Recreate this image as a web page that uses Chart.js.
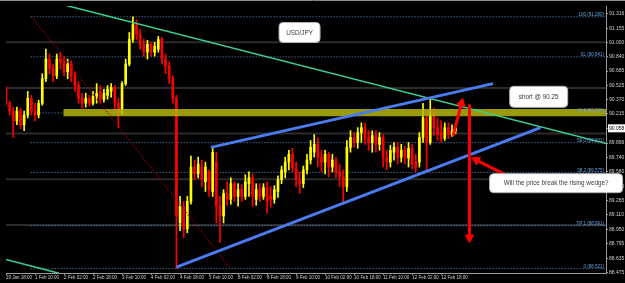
<!DOCTYPE html>
<html><head><meta charset="utf-8">
<script src="https://cdn.jsdelivr.net/npm/chart.js@4.4.0/dist/chart.umd.min.js"></script>
<style>html,body{margin:0;padding:0;background:#000;overflow:hidden}canvas{display:block}</style>
</head><body>
<canvas id="c" width="625" height="283"></canvas>
<script>
// ---- time axis (one bar = 2 hours, tick every 8 bars) ----
const xTickLabels = ['29 Jan 18:00','1 Feb 10:00','2 Feb 02:00','2 Feb 18:00','3 Feb 10:00','4 Feb 02:00','4 Feb 18:00','5 Feb 10:00','8 Feb 02:00','8 Feb 18:00','9 Feb 10:00','10 Feb 02:00','10 Feb 18:00','11 Feb 10:00','12 Feb 02:00','12 Feb 18:00'];
const xTickIndex = [0,8,16,24,32,40,48,56,64,72,80,88,96,104,112,120];

// ---- price axis ----
const yTickValues = [91.316,91.155,91.000,90.840,90.685,90.525,90.370,90.215,90.058,89.896,89.740,89.580,89.420,89.265,89.110,88.950,88.795,88.635,88.475];
const currentPrice = 90.058;

// ---- USD/JPY candles ----
const open = [90.495,90.333,90.247,90.140,90.247,90.097,90.204,90.387,90.247,90.204,
90.333,90.602,90.817,90.710,90.634,90.817,90.785,90.677,90.763,90.634,
90.527,90.387,90.333,90.387,90.333,90.409,90.462,90.376,90.419,90.462,
90.505,90.333,90.226,90.548,90.763,91.032,91.194,91.086,90.978,90.892,
90.978,90.892,90.925,91.032,90.817,90.742,90.602,90.387,89.022,89.204,
88.957,89.258,89.634,89.559,89.634,89.473,89.581,89.366,89.688,89.204,
89.097,89.344,89.280,89.452,89.312,89.387,89.312,89.452,89.516,89.280,
89.387,89.312,89.409,89.312,89.280,89.366,89.495,89.581,89.688,89.774,
89.624,89.495,89.452,89.602,89.710,89.796,89.882,89.742,89.688,89.774,
89.634,89.710,89.581,89.527,89.419,89.850,89.957,89.903,90.011,90.065,
89.957,89.903,89.979,89.882,89.957,89.742,89.688,89.796,89.850,89.742,
89.817,89.731,89.839,89.688,89.688,89.957,90.172,89.903,90.226,90.065,
90.011,89.946,90.065,89.989,90.032];
const high = [90.516,90.355,90.290,90.290,90.280,90.247,90.462,90.419,90.333,90.366,
90.656,90.925,90.871,90.763,90.871,90.892,90.849,90.817,90.796,90.677,
90.570,90.441,90.441,90.419,90.462,90.548,90.527,90.484,90.527,90.548,
90.527,90.387,90.570,90.817,91.108,91.280,91.247,91.140,91.032,91.022,
91.000,91.000,91.065,91.054,90.871,90.785,90.634,90.419,89.312,89.258,
89.312,89.753,89.710,89.742,89.710,89.688,89.602,89.850,89.796,89.312,
89.387,89.473,89.516,89.473,89.452,89.441,89.549,89.581,89.559,89.452,
89.452,89.452,89.473,89.419,89.430,89.538,89.645,89.742,89.817,89.839,
89.688,89.581,89.645,89.774,89.925,89.989,89.957,89.817,89.817,89.796,
89.774,89.742,89.667,89.602,89.925,90.032,90.011,90.065,90.118,90.118,
90.032,90.032,90.032,90.011,89.989,89.817,89.871,89.903,89.903,89.882,
89.860,89.903,89.882,89.774,90.011,90.333,90.247,90.387,90.280,90.172,
90.140,90.118,90.118,90.097,90.118];
const low = [90.312,90.204,89.957,90.097,90.054,90.032,90.172,90.204,90.140,90.172,
90.312,90.570,90.656,90.570,90.602,90.710,90.634,90.602,90.570,90.462,
90.333,90.280,90.290,90.301,90.312,90.333,90.333,90.344,90.376,90.398,
90.247,90.065,90.204,90.527,90.742,91.000,91.032,90.925,90.849,90.817,
90.849,90.849,90.892,90.763,90.656,90.548,90.333,88.521,88.936,88.861,
88.914,89.226,89.495,89.516,89.419,89.366,89.312,89.312,89.022,88.807,
89.022,89.215,89.226,89.258,89.204,89.258,89.280,89.312,89.204,89.215,
89.258,89.280,89.129,89.194,89.237,89.301,89.452,89.516,89.602,89.581,
89.419,89.344,89.409,89.559,89.667,89.742,89.634,89.581,89.559,89.527,
89.581,89.516,89.419,89.237,89.366,89.796,89.850,89.839,89.903,89.882,
89.817,89.796,89.796,89.817,89.634,89.602,89.634,89.710,89.667,89.688,
89.667,89.634,89.613,89.581,89.634,89.903,89.581,89.882,89.979,89.925,
89.903,89.925,89.946,89.968,90.000];
const close = [90.333,90.247,90.140,90.247,90.097,90.204,90.387,90.247,90.204,90.333,
90.602,90.817,90.710,90.634,90.817,90.785,90.677,90.763,90.634,90.527,
90.387,90.333,90.387,90.333,90.409,90.441,90.376,90.441,90.484,90.505,
90.333,90.226,90.548,90.763,91.032,91.194,91.086,90.978,90.892,90.978,
90.892,90.957,91.032,90.817,90.742,90.602,90.387,89.097,89.204,88.957,
89.258,89.634,89.559,89.667,89.495,89.634,89.387,89.796,89.204,89.097,
89.344,89.280,89.452,89.312,89.387,89.312,89.473,89.516,89.312,89.387,
89.312,89.409,89.258,89.280,89.387,89.495,89.602,89.688,89.774,89.624,
89.495,89.452,89.602,89.710,89.850,89.882,89.742,89.688,89.774,89.634,
89.710,89.581,89.527,89.419,89.850,89.957,89.903,90.011,90.065,89.957,
89.903,89.979,89.882,89.957,89.742,89.688,89.817,89.850,89.742,89.817,
89.731,89.839,89.667,89.624,89.957,90.172,89.903,90.226,90.065,89.989,
89.946,90.065,89.989,90.032,90.058];

// ---- horizontal levels ----
const roundLevels = [91.0, 90.5, 90.0, 89.5, 89.0];
const fibNames = ['100','SL','61.8','50.0','38.2','TP 1','0'];
const fibLevels = [91.280, 90.841, 90.226, 89.901, 89.575, 88.991, 88.521];
const fibStartBar = 6.8;
const zoneTop = 90.269, zoneBottom = 90.190, zoneStartBar = 15.8;

// ---- drawn lines (bar index, price) ----
const greenUpperX = [16.1, 165.5],  greenUpperY = [91.409, 89.891];
const greenLowerX = [0, 14.6],      greenLowerY = [88.620, 88.470];
const fibDiagX = [7.1, 62.0],       fibDiagY = [91.280, 88.521];
const wedgeTopX = [56.5, 134.3],    wedgeTopY = [89.849, 90.548];
const wedgeBotX = [47.0, 147.4],    wedgeBotY = [88.538, 90.065];
const arrowUpX = [123.3, 125.6],    arrowUpY = [89.979, 90.333];
const arrowDownX = [127.8, 127.8],  arrowDownY = [90.323, 88.861];
const arrowNoteX = [137.3, 129.7],  arrowNoteY = [89.559, 89.710];

// ---- notes ----
const noteTexts = ['USD/JPY', 'short @ 90.25', 'Will the price break the rising wedge?'];
const noteBar = [80.95, 146.9, 151.7];
const notePrice = [91.108, 90.403, 89.457];
const noteW = [41, 58, 133], noteH = [20, 21, 19];

const xMin = 0, xMax = 165.46, yMin = 88.473, yMax = 91.398;
const bars = open.map((_, i) => i);
const candleColors = bars.map(i => close[i] >= open[i] ? '#ffff00' : '#ff0000');

function seg(xs, ys, color, width, order, extra) {
  return Object.assign({
    type: 'line', data: xs.map((v, i) => ({x: v, y: ys[i]})),
    borderColor: color, borderWidth: width, pointRadius: 0, order: order, tension: 0
  }, extra || {});
}

const datasets = [];
roundLevels.forEach(v => datasets.push(seg([xMin, xMax], [v, v], '#2c2c2c', 2, 20)));
fibLevels.forEach(v => datasets.push(seg([fibStartBar, xMax], [v, v], '#5f95cc', 1, 19, {borderDash: [1, 2]})));
datasets.push({type: 'bar', data: bars.map(i => ({x: i, y: [low[i], high[i]]})), backgroundColor: candleColors, barThickness: 1, grouped: false, order: 12});
datasets.push({type: 'bar', data: bars.map(i => ({x: i, y: [open[i], close[i]]})), backgroundColor: candleColors, barThickness: 2, grouped: false, minBarLength: 1, order: 11});
datasets.push(seg([zoneStartBar, xMax], [zoneTop, zoneTop], 'rgba(0,0,0,0)', 0, 8, {fill: '+1', backgroundColor: 'rgba(180,180,10,0.85)'}));
datasets.push(seg([zoneStartBar, xMax], [zoneBottom, zoneBottom], 'rgba(0,0,0,0)', 0, 8));
datasets.push(seg(greenUpperX, greenUpperY, '#3ccf8e', 1.5, 5));
datasets.push(seg(greenLowerX, greenLowerY, '#3ccf8e', 1.5, 5));
datasets.push(seg(fibDiagX, fibDiagY, '#a00000', 1.5, 5, {borderDash: [1, 2]}));
datasets.push(seg(wedgeTopX, wedgeTopY, '#4a7bf0', 3, 4));
datasets.push(seg(wedgeBotX, wedgeBotY, '#4a7bf0', 3, 4));
const arrowOpts = rot => ({pointRadius: [0, 5], pointStyle: 'triangle', pointRotation: [0, rot], pointBackgroundColor: '#ff0000', pointBorderColor: '#ff0000', pointBorderWidth: 1});
datasets.push(seg(arrowUpX, arrowUpY, '#ff0000', 3, 1, arrowOpts(14)));
datasets.push(seg(arrowDownX, arrowDownY, '#ff0000', 3, 1, arrowOpts(180)));
datasets.push(seg(arrowNoteX, arrowNoteY, '#ff0000', 3, 1, arrowOpts(296.6)));

function roundRectPath(ctx, x, y, w, h, r) {
  ctx.beginPath();
  ctx.moveTo(x + r, y);
  ctx.arcTo(x + w, y, x + w, y + h, r);
  ctx.arcTo(x + w, y + h, x, y + h, r);
  ctx.arcTo(x, y + h, x, y, r);
  ctx.arcTo(x, y, x + w, y, r);
  ctx.closePath();
}

const overlay = {
  id: 'overlay',
  beforeDraw(chart) {
    const ctx = chart.ctx;
    ctx.save();
    ctx.fillStyle = '#000';
    ctx.fillRect(0, 0, chart.width, chart.height);
    ctx.strokeStyle = '#8a8a8a';
    ctx.lineWidth = 1;
    ctx.beginPath(); ctx.moveTo(0, 0.5); ctx.lineTo(chart.width, 0.5); ctx.stroke();
    ctx.restore();
  },
  afterDatasetsDraw(chart) {
    const {ctx, chartArea} = chart;
    const xs = chart.scales.x, ys = chart.scales.y;
    ctx.save();
    ctx.font = '4.5px "Liberation Sans"';
    ctx.fillStyle = '#6aa2dc';
    ctx.textAlign = 'right';
    ctx.textBaseline = 'bottom';
    fibNames.forEach((n, i) => {
      ctx.fillText(n + ' (' + fibLevels[i].toFixed(3) + ')', chartArea.right - 2, ys.getPixelForValue(fibLevels[i]) + 0.5);
    });
    ctx.font = '6.3px "Liberation Sans"';
    ctx.textAlign = 'center';
    ctx.textBaseline = 'middle';
    noteTexts.forEach((t, i) => {
      const cx = xs.getPixelForValue(noteBar[i]), cy = ys.getPixelForValue(notePrice[i]);
      roundRectPath(ctx, cx - noteW[i] / 2, cy - noteH[i] / 2, noteW[i], noteH[i], 4);
      ctx.fillStyle = '#ffffff'; ctx.fill();
      ctx.strokeStyle = '#b5b5b5'; ctx.lineWidth = 1; ctx.stroke();
      ctx.fillStyle = '#3a3a3a';
      ctx.fillText(t, cx, cy + 0.5);
    });
    ctx.restore();
  }
};

new Chart(document.getElementById('c'), {
  type: 'bar',
  data: {datasets},
  plugins: [overlay],
  options: {
    responsive: false, animation: false, devicePixelRatio: 1,
    layout: {padding: {top: 1, left: 0, right: 0, bottom: 0}},
    plugins: {legend: {display: false}, tooltip: {enabled: false}},
    scales: {
      x: {
        type: 'linear', min: xMin, max: xMax, offset: false, position: 'bottom',
        afterBuildTicks: s => { s.ticks = xTickIndex.map(v => ({value: v})); },
        afterFit: s => { s.height = 10; },
        grid: {drawOnChartArea: false, drawTicks: true, tickLength: 2, color: '#9a9a9a', offset: false},
        border: {display: true, color: '#9a9a9a'},
        ticks: {autoSkip: false, minRotation: 0, maxRotation: 0, align: 'start', padding: 0,
          color: '#cfcfcf', font: {size: 4.5, family: 'Liberation Sans'},
          callback: v => xTickLabels[xTickIndex.indexOf(v)]}
      },
      y: {
        type: 'linear', min: yMin, max: yMax, position: 'right',
        afterBuildTicks: s => { s.ticks = yTickValues.map(v => ({value: v})); },
        afterFit: s => { s.width = 19; },
        grid: {drawOnChartArea: false, drawTicks: true, tickLength: 2, color: '#9a9a9a'},
        border: {display: true, color: '#9a9a9a'},
        ticks: {autoSkip: false, padding: 1, font: {size: 5, family: 'Liberation Sans'},
          color: c => (c.tick && c.tick.value === currentPrice) ? '#000' : '#cfcfcf',
          showLabelBackdrop: true,
          backdropColor: c => (c.tick && c.tick.value === currentPrice) ? '#ffffff' : 'rgba(0,0,0,0)',
          backdropPadding: {x: 1, y: 1},
          callback: v => v.toFixed(3)}
      }
    }
  }
});
</script>
</body></html>
